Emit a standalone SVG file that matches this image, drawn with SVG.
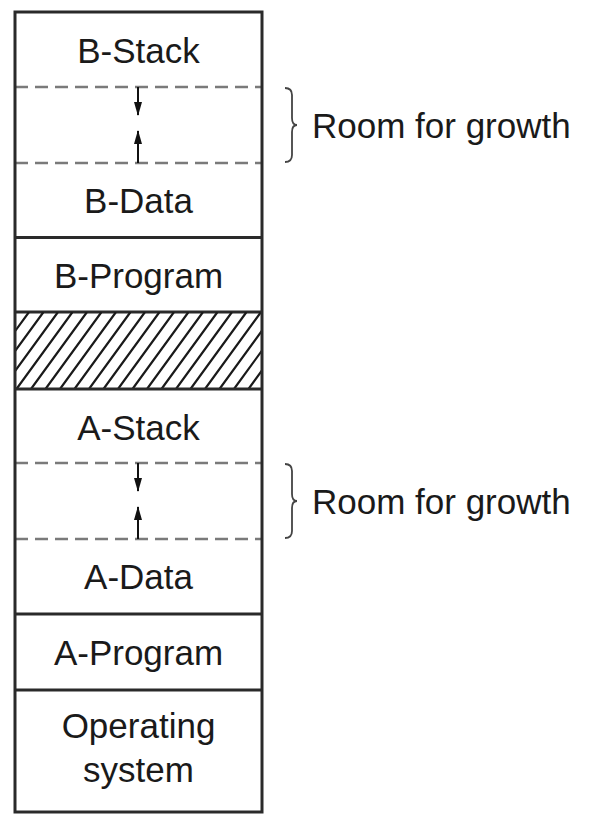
<svg xmlns="http://www.w3.org/2000/svg" width="590" height="816" viewBox="0 0 590 816">
<style>
.lbl{font-family:"Liberation Sans",Arial,sans-serif;font-size:35px;fill:#1a1a1a;text-anchor:middle}
.side{font-family:"Liberation Sans",Arial,sans-serif;font-size:35px;fill:#1a1a1a}
.div{stroke:#2a2a2a;stroke-width:3;fill:none}
.dash{stroke:#7a7a7a;stroke-width:2.4;stroke-dasharray:13 7;fill:none}
.arr{stroke:#111;stroke-width:2;fill:none;marker-end:url(#ah)}
.brace{stroke:#444;stroke-width:1.8;fill:none}
.hatch{stroke:#1a1a1a;stroke-width:2.2;fill:none}
</style>
<defs>
<marker id="ah" markerWidth="14" markerHeight="8" refX="13" refY="4" orient="auto" markerUnits="userSpaceOnUse" viewBox="0 0 14 8">
<path d="M0,0 L14,4 L0,8 Z" fill="#111"/>
</marker>
<clipPath id="hc"><rect x="15" y="312" width="247" height="77"/></clipPath>
</defs>
<rect width="590" height="816" fill="#fff"/>
<g id="memory">
<g id="b-stack"><text class="lbl" x="138.5" y="63">B-Stack</text></g>
<g id="b-growth">
<line class="dash" x1="15" y1="87" x2="262" y2="87"/>
<line class="dash" x1="15" y1="163" x2="262" y2="163"/>
</g>
<g id="b-data"><text class="lbl" x="138.5" y="213">B-Data</text></g>
<line class="div" x1="15" y1="237.5" x2="262" y2="237.5"/>
<g id="b-program"><text class="lbl" x="138.5" y="288">B-Program</text></g>
<line class="div" x1="15" y1="312" x2="262" y2="312"/>
<g id="free">
<g clip-path="url(#hc)">
<path class="hatch" d="M-56 389l56-77M-41.5 389l56-77M-27 389l56-77M-12.5 389l56-77M2 389l56-77M16.5 389l56-77M31 389l56-77M45.5 389l56-77M60 389l56-77M74.5 389l56-77M89 389l56-77M103.5 389l56-77M118 389l56-77M132.5 389l56-77M147 389l56-77M161.5 389l56-77M176 389l56-77M190.5 389l56-77M205 389l56-77M219.5 389l56-77M234 389l56-77M248.5 389l56-77"/>
</g>
</g>
<line class="div" x1="15" y1="389" x2="262" y2="389"/>
<g id="a-stack"><text class="lbl" x="138.5" y="440">A-Stack</text></g>
<g id="a-growth">
<line class="dash" x1="15" y1="463" x2="262" y2="463"/>
<line class="dash" x1="15" y1="539" x2="262" y2="539"/>
</g>
<g id="a-data"><text class="lbl" x="138.5" y="589">A-Data</text></g>
<line class="div" x1="15" y1="614" x2="262" y2="614"/>
<g id="a-program"><text class="lbl" x="138.5" y="665">A-Program</text></g>
<line class="div" x1="15" y1="690" x2="262" y2="690"/>
<g id="os"><text class="lbl" x="138.5" y="738">Operating</text><text class="lbl" x="138.5" y="782">system</text></g>
<rect class="div" x="15" y="12" width="247" height="800"/>
</g>
<g id="connectors">
<line class="arr" x1="138" y1="87" x2="138" y2="115"/>
<line class="arr" x1="138" y1="163" x2="138" y2="131"/>
<line class="arr" x1="138" y1="463" x2="138" y2="491"/>
<line class="arr" x1="138" y1="539" x2="138" y2="507"/>
</g>
<g id="b-brace">
<path class="brace" d="M285 88 Q292 88 292 95 L292 118 Q292 125 297 125 Q292 125 292 132 L292 155 Q292 162 285 162"/>
<text class="side" x="312" y="138">Room for growth</text>
</g>
<g id="a-brace">
<path class="brace" d="M285 464 Q292 464 292 471 L292 494 Q292 501 297 501 Q292 501 292 508 L292 531 Q292 538 285 538"/>
<text class="side" x="312" y="514">Room for growth</text>
</g>
</svg>
